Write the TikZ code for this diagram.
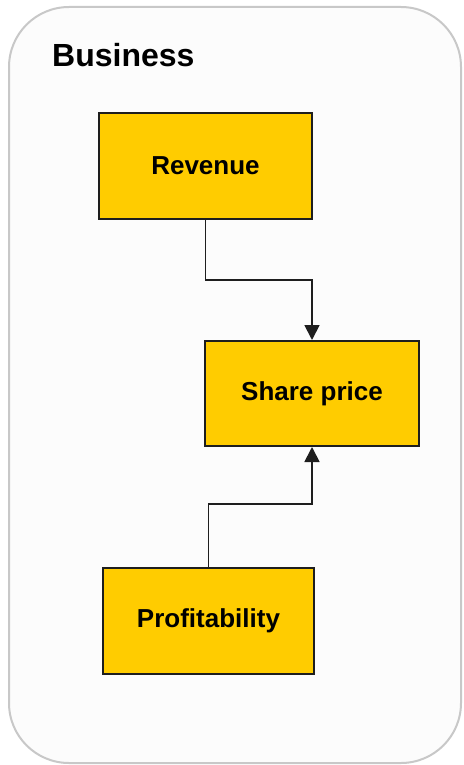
\documentclass[tikz,border=0pt]{standalone}
\usepackage{fontspec}
\setmainfont{Liberation Sans}
\usetikzlibrary{arrows.meta}
\definecolor{boxfill}{RGB}{255,204,0}
\definecolor{framefill}{RGB}{252,252,252}
\definecolor{frameline}{RGB}{200,200,200}
\definecolor{wire}{RGB}{30,30,30}
\tikzset{
  frame/.style={draw=frameline, line width=2pt, fill=framefill, rounded corners=60pt},
  title/.style={anchor=base west, inner sep=0pt, font=\fontsize{32}{38}\selectfont\bfseries},
  block/.style={draw=wire, line width=2pt, fill=boxfill, inner sep=0pt,
    font=\fontsize{26}{30}\selectfont\bfseries},
  link/.style={draw=wire, line width=1.8pt,
    -{Triangle[length=15pt,width=15pt]}},
}
\begin{document}
\begin{tikzpicture}[x=1pt,y=-1pt]
  \useasboundingbox (0,0) rectangle (463,765);
  % outer container
  \path[frame] (9,7) rectangle (461,763);
  \node[title] (biz) at (52,67) {Business};
  % factor blocks
  \node[block, minimum width=213pt, minimum height=106pt] (rev)   at (205.5,166)   {Revenue};
  \node[block, minimum width=214pt, minimum height=105pt] (share) at (312,393.5)   {Share price};
  \node[block, minimum width=211pt, minimum height=106pt] (prof)  at (208.5,621)   {Profitability};
  % influences on share price
  \draw[link] (rev.south) -- ++(0,60) -| (share.north);
  \draw[link] (prof.north) -- ++(0,-63) -| (share.south);
\end{tikzpicture}
\end{document}
